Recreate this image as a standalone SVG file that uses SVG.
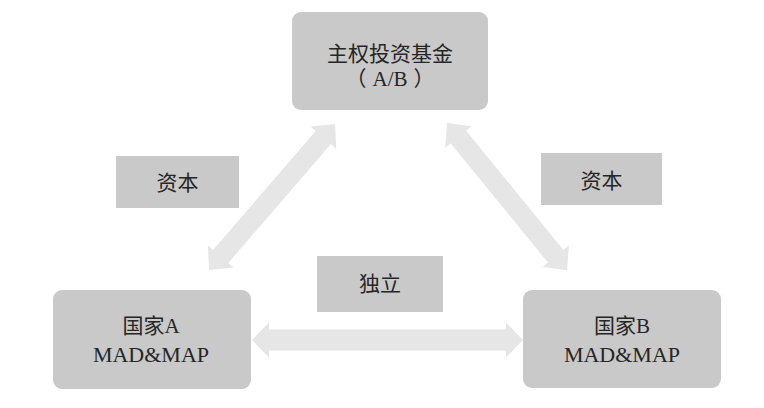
<svg xmlns="http://www.w3.org/2000/svg" width="764" height="408" viewBox="0 0 764 408">
<defs>
<style>
.node{fill:#c9c9c9;}
.lab{fill:#c9c9c9;}
.arr{fill:#e6e6e6;}
text{font-family:"Liberation Serif","Noto Sans CJK SC",serif;fill:#262626;text-anchor:middle;font-size:21px;}
.lat{font-size:22px;}
</style>
</defs>
<rect width="764" height="408" fill="#ffffff"/>
<g id="connectors">
<path class="arr" transform="translate(252,340)" d="M0,0 L17,-17.5 L17,-10.5 L254,-10.5 L254,-17.5 L271,0 L254,17.5 L254,10.5 L17,10.5 L17,17.5 Z"/>
<path class="arr" transform="translate(209,270) rotate(-49.2)" d="M0,0 L18,-17 L18,-10 L175,-10 L175,-17 L193,0 L175,17 L175,10 L18,10 L18,17 Z"/>
<path class="arr" transform="translate(447,123) rotate(50.8)" d="M0,0 L18,-17 L18,-10 L172,-10 L172,-17 L190,0 L172,17 L172,10 L18,10 L18,17 Z"/>
</g>
<g id="fund">
<rect class="node" x="292" y="12" width="196" height="98" rx="9"/>
<text x="390" y="61" font-size="22">主权投资基金</text>
<text x="390" y="86"><tspan>（</tspan><tspan dx="6">A/B</tspan><tspan dx="6">）</tspan></text>
</g>
<g id="countryA">
<rect class="node" x="53" y="290" width="198" height="99" rx="9"/>
<text x="151" y="333">国家A</text>
<text class="lat" x="151" y="362">MAD&amp;MAP</text>
</g>
<g id="countryB">
<rect class="node" x="523" y="290" width="198" height="98" rx="9"/>
<text x="622" y="333">国家B</text>
<text class="lat" x="622" y="362">MAD&amp;MAP</text>
</g>
<g id="label-capital-left">
<rect class="lab" x="116" y="156" width="123" height="52"/>
<text x="177.5" y="190">资本</text>
</g>
<g id="label-capital-right">
<rect class="lab" x="541" y="153" width="121" height="52"/>
<text x="601.5" y="188">资本</text>
</g>
<g id="label-independent">
<rect class="lab" x="317" y="256" width="126" height="56"/>
<text x="380" y="291">独立</text>
</g>
</svg>
